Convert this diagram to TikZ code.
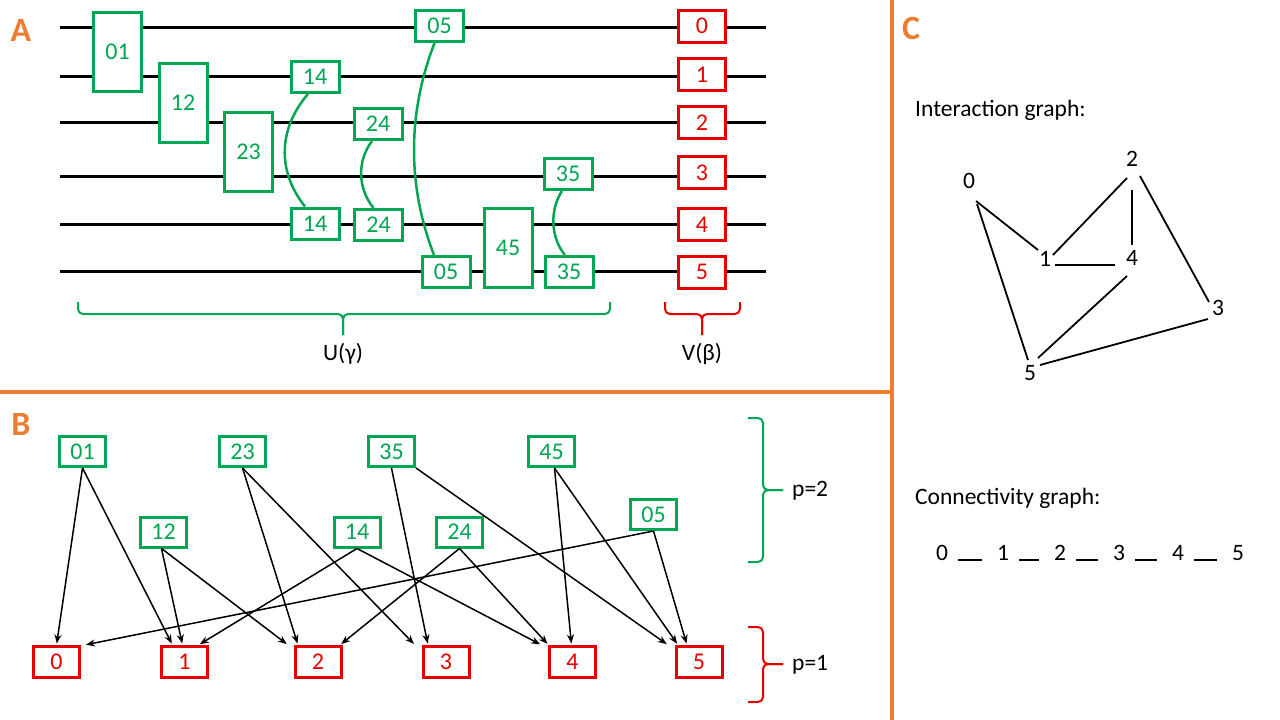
\documentclass[tikz,border=0pt]{standalone}
\usepackage{fontspec}
\setmainfont{Carlito}
\usetikzlibrary{arrows.meta}
\definecolor{qgreen}{RGB}{0,166,81}
\definecolor{qred}{RGB}{230,0,0}
\definecolor{qorange}{RGB}{237,125,49}
\begin{document}
\begin{tikzpicture}[x=1pt,y=-1pt,
  wire/.style={line width=3pt},
  gsmall/.style={draw=qgreen,line width=3pt,fill=white,text=qgreen,minimum width=48pt,minimum height=31pt,inner sep=0pt,font=\fontsize{24}{24}\selectfont},
  gtall/.style={gsmall,minimum height=79pt},
  rbox/.style={gsmall,draw=qred,text=qred,minimum width=47pt,minimum height=32pt},
  bg/.style={gsmall,minimum width=46pt,minimum height=30pt},
  br/.style={rbox,minimum width=46pt,minimum height=31pt},
  gcurve/.style={draw=qgreen,line width=2.5pt},
  dep/.style={line width=1.5pt,-{Stealth[length=9pt,width=7pt]},shorten >=1.5pt},
  gedge/.style={line width=1.8pt},
  lbl/.style={font=\fontsize{23.5}{23.5}\selectfont,inner sep=0pt},
  panel/.style={text=qorange,font=\fontsize{34}{34}\selectfont\bfseries},
  sep/.style={draw=qorange,line width=4pt},
  brc/.style={line width=2pt,rounded corners=5pt},
  ]
\useasboundingbox (0,0) rectangle (1280,720);
% separators
\coordinate (h1) at (0,392); \coordinate (h2) at (890,392);
\coordinate (v1) at (892,0); \coordinate (v2) at (892,720);
\draw[sep] (h1) -- (h2);
\draw[sep] (v1) -- (v2);
\node[panel] (pA) at (21,30) {A};
\node[panel] (pB) at (21,424) {B};
\node[panel] (pC) at (911,28) {C};
% ---------- panel A ----------
\foreach \i/\y in {0/27,1/76,2/122,3/176,4/224,5/271}{
  \coordinate (wl\i) at (60,\y); \coordinate (wr\i) at (766,\y);
  \draw[wire] (wl\i) -- (wr\i);}
\node[gtall] (a01) at (117.5,52) {01};
\node[gtall] (a12) at (183,102.5) {12};
\node[gtall] (a23) at (248.5,152) {23};
\node[gsmall] (a14t) at (315,77) {14};
\node[gsmall] (a14b) at (315,223.5) {14};
\node[gsmall] (a24t) at (378,124) {24};
\node[gsmall] (a24b) at (378.5,225) {24};
\node[gsmall] (a05t) at (439.5,26) {05};
\node[gsmall] (a05b) at (446,272) {05};
\node[gtall] (a45) at (508,248) {45};
\node[gsmall] (a35t) at (568,174) {35};
\node[gsmall] (a35b) at (569,272) {35};
\foreach \i/\y in {0/26,1/74.5,2/122.5,3/172.5,4/224.5,5/272}{
  \node[rbox] (v\i) at (702,\y) {\i};}
\draw[gcurve] ([xshift=-7pt]a14t.south) .. controls +(-30,35) and +(-28,-35) .. ([xshift=-10pt]a14b.north);
\draw[gcurve] ([xshift=-6pt]a24t.south) .. controls +(-15,20) and +(-16,-20) .. ([xshift=-5pt]a24b.north);
\draw[gcurve] ([xshift=-5pt]a05t.south) .. controls +(-27,70) and +(-27,-70) .. ([xshift=-12pt]a05b.north);
\draw[gcurve] ([xshift=-6pt]a35t.south) .. controls +(-12,18) and +(-15,-18) .. ([xshift=-4pt]a35b.north);
% braces under panel A
\draw[brc,qgreen] (78,302) -- (78,314) -- (343,314) -- (343,335);
\draw[brc,qgreen] (610,302) -- (610,314) -- (343,314) -- (343,335);
\draw[brc,qred] (665,302) -- (665,314) -- (702,314) -- (702,335);
\draw[brc,qred] (740,302) -- (740,314) -- (702,314) -- (702,335);
\node[lbl] (ul) at (343,354) {U(γ)};
\node[lbl] (vl) at (702,354) {V(β)};
% ---------- panel B ----------
\node[bg] (b01) at (82.5,451.5) {01};
\node[bg] (b23) at (242.5,451.5) {23};
\node[bg] (b35) at (391.5,451.5) {35};
\node[bg] (b45) at (551.5,451.5) {45};
\node[bg] (b12) at (163.5,532) {12};
\node[bg] (b14) at (357,532) {14};
\node[bg] (b24) at (459.5,532) {24};
\node[bg] (b05) at (653.5,514.5) {05};
\node[br] (r0) at (56.5,662) {0};
\node[br] (r1) at (184.5,662) {1};
\node[br] (r2) at (318,662) {2};
\node[br] (r3) at (446,662) {3};
\node[br] (r4) at (572.5,662) {4};
\node[br] (r5) at (699,662) {5};
\draw[dep] (b01.south) -- (r0.north);
\draw[dep] (b01.south) -- ([xshift=-12pt]r1.north);
\draw[dep] ([xshift=-2pt]b12.south) -- ([xshift=-2pt]r1.north);
\draw[dep] ([xshift=-2pt]b12.south) -- ([xshift=-30pt]r2.north);
\draw[dep] (b23.south) -- ([xshift=-20pt]r2.north);
\draw[dep] (b23.south) -- ([xshift=-31pt]r3.north);
\draw[dep] (b35.south) -- ([xshift=-18pt]r3.north);
\draw[dep] (b35.south east) -- ([xshift=-31pt]r5.north);
\draw[dep] (b14.south) -- ([xshift=14pt]r1.north);
\draw[dep] (b14.south) -- ([xshift=-31pt]r4.north);
\draw[dep] (b24.south) -- ([xshift=22pt]r2.north);
\draw[dep] (b24.south) -- ([xshift=-24pt]r4.north);
\draw[dep] ([xshift=3pt]b45.south) -- ([xshift=-1pt]r4.north);
\draw[dep] ([xshift=3pt]b45.south) -- ([xshift=-21pt]r5.north);
\draw[dep] (b05.south) -- ([xshift=28pt]r0.north);
\draw[dep] (b05.south) -- ([xshift=-12pt]r5.north);
% braces right of panel B
\draw[brc,qgreen] (748,418) -- (763,418) -- (763,490) -- (783,490);
\draw[brc,qgreen] (748,562) -- (763,562) -- (763,490) -- (783,490);
\draw[brc,qred] (748,627) -- (763,627) -- (763,664) -- (783,664);
\draw[brc,qred] (748,702) -- (763,702) -- (763,664) -- (783,664);
\node[lbl,anchor=west] (p2) at (792,491) {p=2};
\node[lbl,anchor=west] (p1) at (792,665) {p=1};
% ---------- panel C ----------
\node[lbl,anchor=west] (ig) at (915,110) {Interaction graph:};
\node[lbl] (c0) at (969,181) {0};
\node[lbl] (c1) at (1045,259) {1};
\node[lbl] (c2) at (1132,159) {2};
\node[lbl] (c3) at (1218,308) {3};
\node[lbl] (c4) at (1132,258) {4};
\node[lbl] (c5) at (1030,373) {5};
\draw[gedge] ([shift={(7,20)}]c0.center) -- ([shift={(-7,-9)}]c1.center);
\draw[gedge] ([shift={(8,23)}]c0.center) -- ([shift={(-2,-13)}]c5.center);
\draw[gedge] ([shift={(-5,19)}]c2.center) -- ([shift={(8,-4)}]c1.center);
\draw[gedge] ([shift={(0,31)}]c2.center) -- ([shift={(0,-13)}]c4.center);
\draw[gedge] ([shift={(8,17)}]c2.center) -- ([shift={(-9,-6)}]c3.center);
\draw[gedge] ([shift={(10,6)}]c1.center) -- ([shift={(-17,7)}]c4.center);
\draw[gedge] ([shift={(-5,18)}]c4.center) -- ([shift={(8,-15)}]c5.center);
\draw[gedge] ([shift={(10,-8)}]c5.center) -- ([shift={(-10,11)}]c3.center);
\node[lbl,anchor=west] (cg) at (915,498) {Connectivity graph:};
\foreach \i/\x in {0/942,1/1003,2/1060,3/1119,4/1178,5/1238}{
  \node[lbl] (k\i) at (\x,553) {\i};}
\foreach \a/\b in {0/1,1/2,2/3,3/4,4/5}{
  \draw[line width=1.6pt] ([shift={(16,7)}]k\a.center) -- ([shift={(-21,7)}]k\b.center);}
\end{tikzpicture}
\end{document}
